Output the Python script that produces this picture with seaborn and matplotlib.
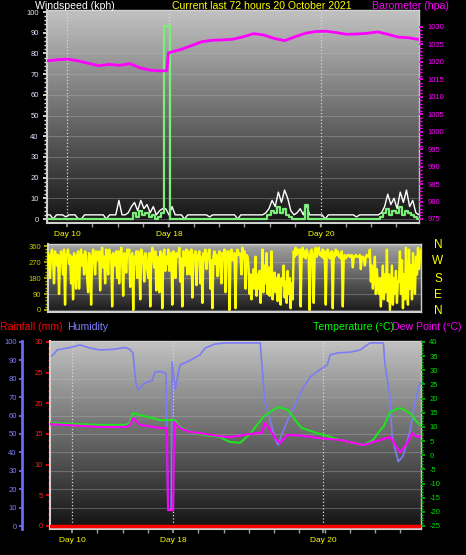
import numpy as np
import matplotlib
matplotlib.use('Agg')
import matplotlib.pyplot as plt
import seaborn as sns
from matplotlib.colors import LinearSegmentedColormap

# ---- top panel: wind speed (kph) and barometer (hpa), 72 hours ----
gust_kph = [2, 2, 0, 2, 2, 2, 1, 2, 2, 2, 0, 0, 2, 2, 2, 2, 2, 2, 2, 0, 2,
            2, 2, 9, 2, 2, 3, 6,
            8, 4, 9, 5, 7, 3, 6, 2, 4, 5,
            5, 2, 6,
            2, 2, 2, 0, 2, 2, 2, 2, 2, 2, 2, 1, 2, 2, 2, 2, 2, 2, 2, 2, 0, 2, 2, 2, 2, 2, 2, 2, 2, 3,
            5, 9, 6, 13, 8, 14, 10, 4,
            2, 3, 5, 2, 7, 2, 2, 2, 2, 2, 0, 2, 2, 2, 2, 2, 2,
            2, 2, 2, 1, 2, 2, 2, 2, 2, 2,
            2, 3, 6, 12, 7, 10, 5, 13, 8, 14, 6, 9, 3, 2]
avg_kph = [0] * 28 + [3, 1, 4, 2, 3, 1, 2, 0, 1, 3] + [93, 93] + [0] * 31 + \
          [2, 4, 3, 6, 3, 5, 2, 1] + [0, 0, 0, 0, 7] + [0] * 12 + [0] * 10 + \
          [0, 1, 3, 5, 2, 4, 3, 6, 2, 4, 3, 2, 1, 0]
baro_hours = [0, 2, 4, 6, 8, 10, 12, 14, 16, 18, 20, 22, 23.2, 23.5, 24, 26, 28, 30, 32, 34,
              36, 38, 40, 42, 44, 46, 48, 50, 52, 54, 56, 58, 60, 62, 64, 66, 68, 70, 72]
baro_hpa = [1020.3, 1020.6, 1020.8, 1020.3, 1019.6, 1018.9, 1019.3, 1019.0, 1019.5, 1018.3,
            1017.6, 1017.4, 1017.5, 1022.6, 1022.8, 1023.6, 1024.7, 1025.8, 1026.2, 1026.3,
            1026.5, 1027.2, 1028.1, 1027.7, 1026.7, 1026.1, 1027.2, 1028.2, 1028.7, 1028.8,
            1028.4, 1027.9, 1028.0, 1028.2, 1028.6, 1027.9, 1027.1, 1026.9, 1026.4]

# ---- middle panel: wind direction (degrees) ----
wind_dir = [320, 300, 180, 310, 340, 290, 150, 330, 300, 250,
            310, 90, 280, 330, 300, 200, 340, 30, 300, 320,
            340, 260, 310, 150, 300, 60, 320, 290, 120, 300,
            330, 120, 290, 340, 250, 310, 200, 330, 300, 180,
            100, 320, 300, 30, 280, 340, 300, 200, 330, 310,
            280, 330, 110, 300, 350, 240, 300, 150, 340, 310,
            200, 340, 290, 310, 20, 320, 300, 250, 330, 180,
            330, 150, 300, 350, 280, 80, 320, 300, 210, 340,
            310, 340, 130, 290, 320, 0, 300, 260, 330, 180,
            330, 270, 60, 340, 310, 290, 160, 320, 300, 230,
            180, 320, 20, 300, 350, 290, 240, 330, 110, 300,
            290, 100, 330, 310, 10, 310, 340, 220, 300, 260,
            340, 220, 300, 320, 30, 330, 290, 180, 320, 300,
            310, 350, 160, 290, 20, 330, 300, 250, 340, 200,
            330, 300, 200, 340, 70, 310, 290, 330, 140, 300,
            310, 330, 150, 300, 40, 320, 280, 340, 230, 300,
            320, 340, 120, 280, 10, 300, 330, 260, 310, 190,
            300, 330, 230, 150, 320, 290, 340, 100, 310, 330,
            330, 0, 300, 340, 280, 310, 320, 10, 300, 340,
            310, 320, 300, 200, 350, 290, 330, 120, 310, 300,
            250, 90, 200, 60, 180, 230, 120, 300, 80, 200,
            120, 220, 40, 170, 340, 100, 250, 150, 320, 90,
            240, 80, 190, 330, 60, 150, 210, 100, 180, 50,
            200, 100, 30, 180, 140, 250, 70, 160, 40, 220,
            90, 180, 10, 150, 60, 330, 300, 350, 310, 340,
            320, 340, 20, 310, 350, 300, 330, 290, 340, 320,
            300, 0, 330, 340, 290, 40, 320, 350, 300, 330,
            350, 310, 320, 300, 340, 290, 330, 30, 310, 340,
            310, 290, 320, 330, 10, 320, 300, 340, 310, 330,
            300, 310, 290, 330, 20, 300, 310, 290, 300, 310,
            310, 300, 300, 310, 240, 300, 300, 310, 300, 300,
            300, 310, 230, 300, 300, 290, 250, 300, 310, 300,
            300, 340, 160, 250, 120, 200, 300, 90, 230, 150,
            90, 180, 20, 150, 250, 60, 200, 100, 340, 50,
            200, 0, 130, 250, 30, 180, 90, 220, 40, 160,
            160, 330, 90, 280, 10, 200, 60, 350, 120, 30,
            340, 120, 250, 60, 320, 180, 90, 300, 200, 350, 230, 300, 340]

# ---- bottom panel: humidity (%), rainfall (mm), temperature / dew point (C) ----
hum_hours = [0.0, 0.6, 1.4, 3.9, 5.8, 7.8, 9.7, 12.2, 14.6, 15.5, 16.1, 16.7, 17.1, 18.4, 19.8,
             20.4, 21.4, 22.5, 22.9, 23.5, 23.7, 24.3, 25.2, 27.2, 29.1, 30.1, 32.0, 34.0, 40.8,
             41.2, 41.7, 42.7, 43.7, 44.3, 45.0, 46.2, 48.0, 48.9, 50.5, 52.4, 53.8, 54.4, 55.7,
             58.3, 60.2, 62.1, 64.7, 65.0, 66.0, 66.4, 67.6, 68.5, 69.9, 70.9, 71.8]
humidity = [92, 93, 95.7, 97, 98.4, 96.7, 95.7, 96, 97, 96, 94, 77, 74, 77.7, 79,
            83.7, 84, 83, 9, 9, 89, 74, 87.5, 90, 93, 96.7, 98.9, 99.5, 99.5,
            85, 68, 58, 47, 44, 50, 58, 68.5, 74, 81, 85, 87.5, 93, 94,
            94.5, 95.7, 99.5, 99.5, 88, 70, 48, 35, 38, 52, 68, 78]
temp_hours = [0.0, 9.7, 14.6, 15.5, 16.1, 17.5, 21.4, 23.7, 24.3, 25.2, 27.2, 30.1, 33.0, 34.9,
              36.9, 38.8, 39.4, 41.4, 43.3, 44.3, 46.2, 48.0, 48.9, 51.1, 54.4, 56.3, 60.8,
              62.7, 64.1, 64.7, 66.0, 67.9, 69.9, 70.9, 71.8]
temp_c = [11.4, 10.7, 10.7, 11.4, 14.9, 14.2, 12.4, 12.4, 12.4, 10, 8.2, 7.1, 6.4, 4.7,
          4.4, 7.5, 8.9, 13.5, 16, 17, 16, 11.4, 9.6, 8.2, 6.5, 5.4, 3.6,
          5.4, 8.9, 10, 15.3, 16.7, 14.9, 12.4, 10.7]
dew_hours = [0.0, 9.7, 14.6, 15.5, 16.1, 17.5, 21.4, 22.7, 22.9, 23.9, 24.1, 25.2, 27.2, 29.1,
             32.6, 34.9, 38.8, 41.2, 41.7, 42.7, 43.7, 44.7, 46.0, 48.0, 52.4, 56.3, 60.8,
             64.1, 66.0, 67.4, 68.0, 69.3, 70.3, 71.3, 72.0]
dew_c = [11.0, 10, 10, 10.5, 13.1, 10.7, 9.6, 9.6, -19.4, -19.4, 11.7, 9.6, 8.2, 7.8,
         6.8, 6.4, 7.5, 8, 11.4, 9, 6, 4.3, 7.1, 7.1, 6, 5.4, 3.6,
         5.4, 6.4, 2.5, 1.1, 4.3, 7.8, 6.4, 6.8]
rain_hours = [0, 72]
rain_mm = [0, 0]

day_labels = ['Day 10', 'Day 18', 'Day 20']

sns.set_theme(style='ticks', rc={'axes.facecolor': 'black', 'figure.facecolor': 'black'})
plt.rcParams['font.family'] = ['Liberation Sans', 'DejaVu Sans']
plt.rcParams['axes.unicode_minus'] = False
narrow = ['Liberation Sans Narrow', 'Liberation Sans', 'DejaVu Sans']

W, H = 466, 555
fig = plt.figure(figsize=(W / 100, H / 100), dpi=100)


def box(l, t, r, b):
    return [l / W, 1 - b / H, (r - l) / W, (b - t) / H]


def gradient(ax, top, bottom):
    cmap = LinearSegmentedColormap.from_list('g', [bottom, top])
    g = np.linspace(0, 1, 256).reshape(-1, 1)
    ax.imshow(g, extent=[0, 1, 0, 1], transform=ax.transAxes, origin='lower',
              aspect='auto', cmap=cmap, zorder=0, interpolation='bilinear')


def frame(ax):
    for s in ax.spines.values():
        s.set_color('#d0d0d0')
        s.set_linewidth(1)
    ax.spines['left'].set_linewidth(1.5)
    ax.spines['bottom'].set_linewidth(1.5)


def hide(ax):
    for s in ax.spines.values():
        s.set_visible(False)


def txt(x, y, s, c, size=7.6, ha='left', fam=None):
    fig.text(x / W, 1 - y / H, s, color=c, fontsize=size, ha=ha, va='center',
             family=fam or ['Liberation Sans', 'DejaVu Sans'])


# ---------------- top panel ----------------
ax_w = fig.add_axes(box(47, 10, 419, 223))
gradient(ax_w, '#c2c2c2', '#141414')
t_w = np.linspace(0, 72, len(gust_kph))
sns.lineplot(x=t_w, y=gust_kph, ax=ax_w, color='white', lw=1, estimator=None, zorder=3)
sns.lineplot(x=t_w, y=avg_kph, ax=ax_w, color='#78f078', lw=1.6, estimator=None,
             drawstyle='steps-mid', zorder=4)
ax_w.set_xlim(0, 72)
ax_w.set_ylim(-1.93, 100.97)
ax_w.set_yticks(range(0, 101, 10))
ax_w.set_yticks(range(0, 101, 2), minor=True)
ax_w.set_xticks([3.9, 23.6, 53.0])
ax_w.set_xticklabels(day_labels)
ax_w.set_xticks(np.arange(3.9, 72, 4.9), minor=True)
ax_w.tick_params(axis='y', which='both', left=True, color='#e8e8e8', labelcolor='#e0e8ff',
                 labelsize=5.5, pad=3)
ax_w.tick_params(axis='y', which='major', length=3)
ax_w.tick_params(axis='y', which='minor', length=2)
ax_w.tick_params(axis='x', which='both', bottom=True, color='#a0a0a0', labelcolor='#ffff00',
                 labelsize=6, pad=3, length=3)
ax_w.grid(axis='y', color='#b8b8b8', alpha=0.35, lw=0.8)
ax_w.grid(axis='x', which='major', color='#d8d8d8', ls=':', lw=0.9)
ax_w.set_xlabel('')
ax_w.set_ylabel('')
frame(ax_w)

ax_b = ax_w.twinx()
hide(ax_b)
sns.lineplot(x=baro_hours, y=baro_hpa, ax=ax_b, color='#ff00ff', lw=2, estimator=None)
ax_b.set_ylim(973.85, 1034.87)
ax_b.set_yticks(range(975, 1031, 5))
ax_b.set_yticks(range(975, 1031, 1), minor=True)
ax_b.tick_params(axis='y', which='both', right=True, color='#ff00ff', labelcolor='#ff00ff',
                 labelsize=5.5, pad=3)
ax_b.tick_params(axis='y', which='major', length=3)
ax_b.tick_params(axis='y', which='minor', length=2)
ax_b.set_ylabel('')

txt(35, 6, 'Windspeed (kph)', 'white')
txt(172, 6, 'Current last 72 hours 20 October 2021', '#ffff00')
txt(372, 6, 'Barometer (hpa)', '#ff00ff')

# ---------------- wind direction panel ----------------
ax_d = fig.add_axes(box(48, 244, 421, 312))
gradient(ax_d, '#a4a4a4', '#1a1a1a')
t_d = np.linspace(0, 72, len(wind_dir))
sns.lineplot(x=t_d, y=wind_dir, ax=ax_d, color='#ffff00', lw=1.7, estimator=None, zorder=3)
ax_d.set_xlim(0, 72)
ax_d.set_ylim(-11.25, 371.25)
ax_d.set_yticks(range(0, 361, 90))
ax_d.set_yticks(range(0, 361, 18), minor=True)
ax_d.set_xticks([])
ax_d.tick_params(axis='y', which='both', left=True, color='#b0b000', labelcolor='#c8c800',
                 labelsize=5.5, pad=2)
ax_d.tick_params(axis='y', which='major', length=3)
ax_d.tick_params(axis='y', which='minor', length=2)
ax_d.grid(axis='y', color='#c0c0c0', alpha=0.35, lw=0.8)
ax_d.set_xlabel('')
ax_d.set_ylabel('')
frame(ax_d)
for lab, yy in zip(['N', 'W', 'S', 'E', 'N'], [245, 261, 279, 295, 311]):
    txt(438, yy, lab, '#ffff00', size=8.5, ha='center')

# ---------------- bottom panel ----------------
ax_h = fig.add_axes(box(50, 341, 421, 529))
gradient(ax_h, '#c2c2c2', '#121212')
sns.lineplot(x=hum_hours, y=humidity, ax=ax_h, color='#7c7cf4', lw=1.2, estimator=None, zorder=3)
ax_h.set_xlim(0, 72)
ax_h.set_ylim(-1.63, 100.54)
ax_h.set_yticks(range(0, 101, 10))
ax_h.set_xticks([4.3, 23.9, 53.0])
ax_h.set_xticklabels(day_labels)
ax_h.set_xticks(np.arange(4.3, 72, 4.9), minor=True)
ax_h.tick_params(axis='y', which='both', left=True, color='#7070ff', labelcolor='#7f7fff',
                 labelsize=5.5, pad=2, length=2)
ax_h.tick_params(axis='x', which='both', bottom=True, color='#a0a0a0', labelcolor='#ffff00',
                 labelsize=6, pad=3, length=3)
for lab in ax_h.get_yticklabels():
    lab.set_family(narrow)
ax_h.grid(axis='y', color='#b8b8b8', alpha=0.35, lw=0.8)
ax_h.grid(axis='x', which='major', color='#d8d8d8', ls=':', lw=0.9)
ax_h.set_xlabel('')
ax_h.set_ylabel('')
frame(ax_h)
ax_h.spines['left'].set_position(('outward', 20))
ax_h.spines['left'].set_color('#6a6aff')
ax_h.spines['left'].set_linewidth(2)

ax_r = ax_h.twinx()
hide(ax_r)
ax_r.spines['left'].set_visible(True)
ax_r.spines['left'].set_color('#d0d0d0')
ax_r.spines['left'].set_linewidth(1.5)
ax_r.yaxis.tick_left()
sns.lineplot(x=rain_hours, y=rain_mm, ax=ax_r, color='#ff0000', lw=2.5, estimator=None, zorder=5)
ax_r.set_ylim(-0.49, 30.16)
ax_r.set_yticks(range(0, 31, 5))
ax_r.set_yticks(range(0, 31, 1), minor=True)
ax_r.tick_params(axis='y', which='both', left=True, right=False, color='#ff0000',
                 labelcolor='#ff2020', labelsize=5.5, pad=2)
ax_r.tick_params(axis='y', which='major', length=3)
ax_r.tick_params(axis='y', which='minor', length=1.5)
for lab in ax_r.get_yticklabels():
    lab.set_family(narrow)
ax_r.set_ylabel('')

ax_t = ax_h.twinx()
hide(ax_t)
sns.lineplot(x=temp_hours, y=temp_c, ax=ax_t, color='#22e022', lw=1.5, estimator=None)
sns.lineplot(x=dew_hours, y=dew_c, ax=ax_t, color='#ff00ff', lw=1.5, estimator=None)
ax_t.set_ylim(-26.06, 40.35)
ax_t.set_yticks(range(-25, 41, 5))
ax_t.set_yticks(range(-25, 41, 1), minor=True)
ax_t.tick_params(axis='y', which='both', right=True, color='#00c000', labelcolor='#00e000',
                 labelsize=5.5, pad=3)
ax_t.tick_params(axis='y', which='major', length=3)
ax_t.tick_params(axis='y', which='minor', length=1.5)
for lab in ax_t.get_yticklabels():
    lab.set_family(narrow)
ax_t.set_ylabel('')

txt(0, 327, 'Rainfall (mm)', '#ff0000')
txt(67, 327, 'Humidity', '#8080ff')
txt(313, 327, 'Temperature (\u00b0C)', '#00ff00')
txt(392, 327, 'Dew Point (\u00b0C)', '#ff00ff')

fig.savefig('out.png', dpi=100, facecolor='black')
